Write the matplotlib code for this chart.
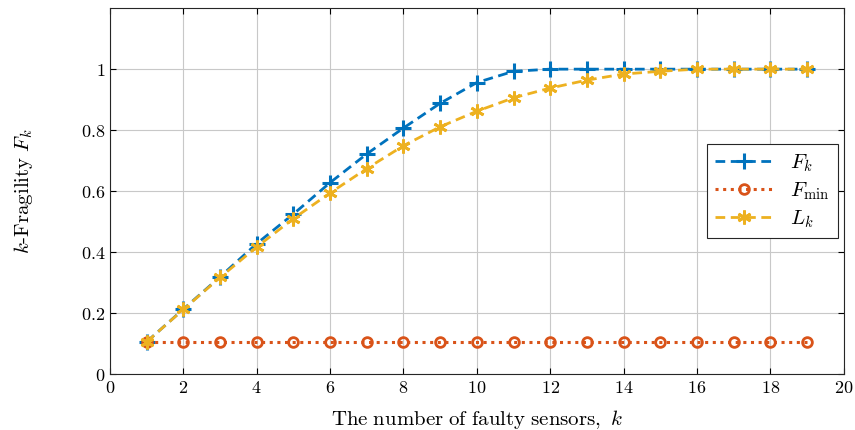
import matplotlib
matplotlib.use("Agg")
import matplotlib.pyplot as plt

plt.rcParams["mathtext.fontset"] = "cm"
plt.rcParams["font.family"] = ["DejaVu Serif"]

k = [1, 2, 3, 4, 5, 6, 7, 8, 9, 10, 11, 12, 13, 14, 15, 16, 17, 18, 19]
f_k = [0.106, 0.213, 0.319, 0.428, 0.525, 0.628, 0.722, 0.807, 0.888, 0.956,
       0.993, 1.0, 1.0, 1.0, 1.0, 1.0, 1.0, 1.0, 1.0]
f_min = [0.105] * 19
l_k = [0.106, 0.212, 0.317, 0.417, 0.51, 0.594, 0.674, 0.749, 0.811, 0.862,
       0.906, 0.938, 0.964, 0.984, 0.993, 1.0, 1.0, 1.0, 1.0]

xticks = [0, 2, 4, 6, 8, 10, 12, 14, 16, 18, 20]
yticks = [0, 0.2, 0.4, 0.6, 0.8, 1]
ytick_labels = ["$0$", "$0.2$", "$0.4$", "$0.6$", "$0.8$", "$1$"]

fig = plt.figure(figsize=(8.55, 4.3), dpi=100)
ax = fig.add_axes([0.1287, 0.130, 0.858, 0.851])

ax.plot(k, f_k, color="#0072BD", linestyle=(0, (3.5, 2)), linewidth=2,
        marker="+", markersize=11, markeredgewidth=2.2, label="$F_k$", zorder=3)
ax.plot(k, f_min, color="#D95319", linestyle=(0, (1, 1.5)), linewidth=2.2,
        marker="o", markersize=7, markerfacecolor="none", markeredgewidth=2,
        label=r"$F_{\min}$", zorder=3)
ax.plot(k, l_k, color="#EDB120", linestyle=(0, (3.5, 2)), linewidth=2,
        marker=(6, 2, 0), markersize=10, markeredgewidth=2, label="$L_k$", zorder=4)

ax.set_xlim(0, 20)
ax.set_ylim(0, 1.2)
ax.set_xticks(xticks)
ax.set_xticklabels([f"${t}$" for t in xticks])
ax.set_yticks(yticks)
ax.set_yticklabels(ytick_labels)
ax.tick_params(direction="in", labelsize=13, length=4, top=True, right=True)
ax.grid(True, color="#c8c8c8", linewidth=0.8)
ax.set_axisbelow(True)
for s in ax.spines.values():
    s.set_color("#262626")
    s.set_linewidth(0.8)

ax.set_xlabel(r"$\mathrm{The\ number\ of\ faulty\ sensors},\ k$", fontsize=15, labelpad=8)
ax.set_ylabel(r"$k\mathrm{\text{-}Fragility}\ F_k$", fontsize=15, labelpad=33)

leg = ax.legend(loc="center right", bbox_to_anchor=(0.992, 0.5), fontsize=15,
                fancybox=False, framealpha=1, edgecolor="#262626",
                handlelength=2.8, borderpad=0.4, labelspacing=0.3,
                borderaxespad=0)
leg.get_frame().set_linewidth(0.8)

fig.savefig("out.png", dpi=100)
